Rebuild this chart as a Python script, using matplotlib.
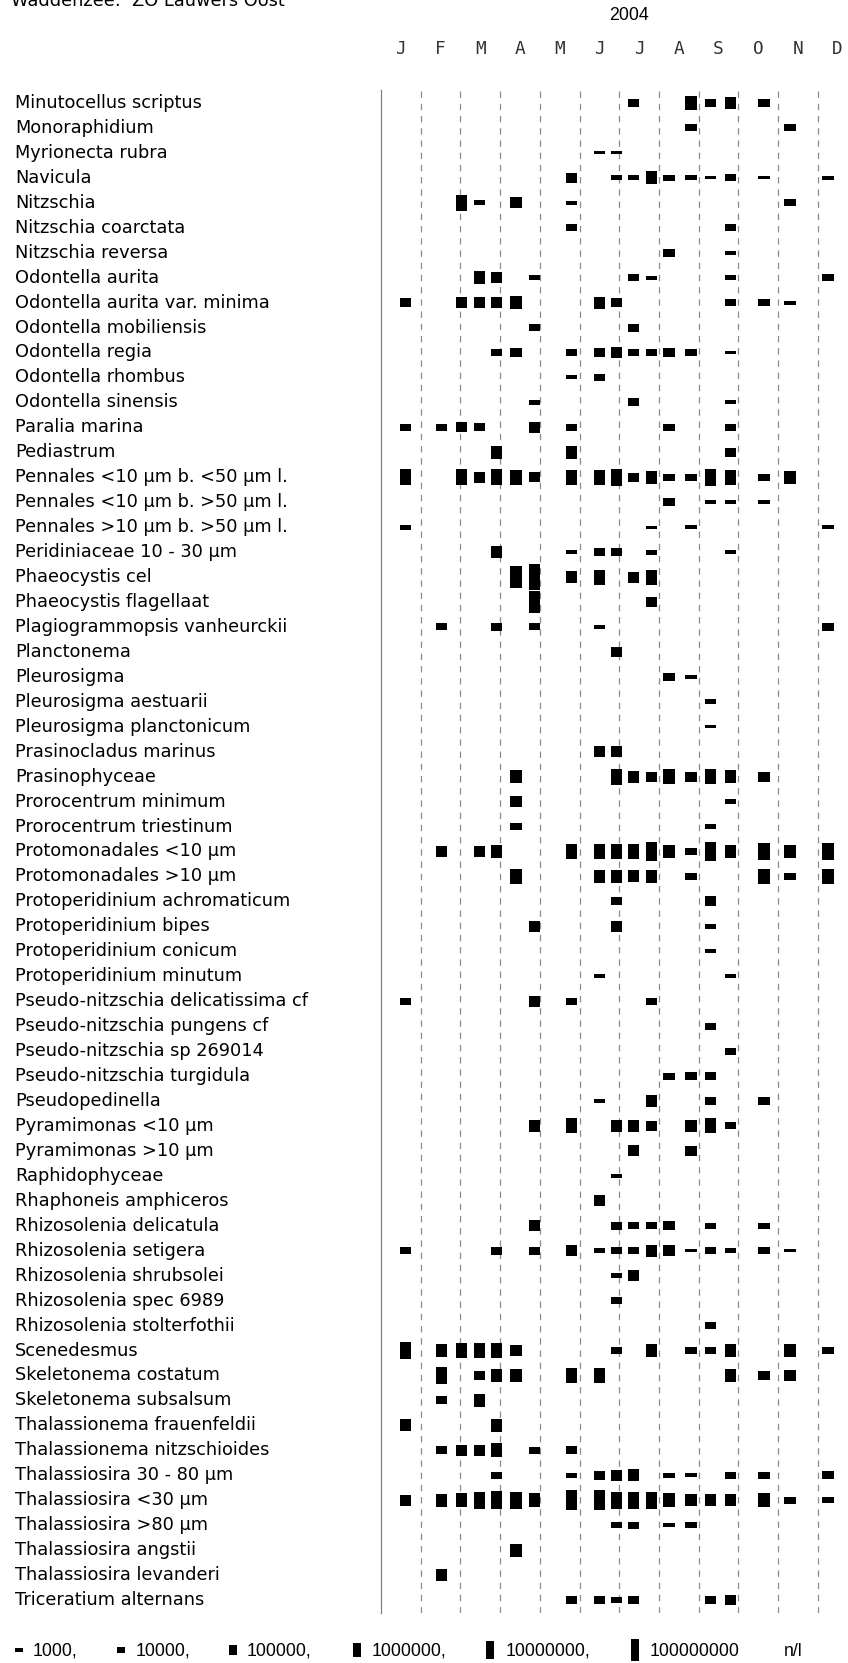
import calendar
import math
import matplotlib
matplotlib.use("Agg")
import matplotlib.pyplot as plt
from matplotlib import transforms
from matplotlib.patches import Rectangle

plt.rcParams['font.family'] = ['DejaVu Sans']
plt.rcParams['lines.scale_dashes'] = False

# ---------------- data ----------------
title = "Waddenzee:  ZO Lauwers Oost"
year = 2004
month_labels = ["J", "F", "M", "A", "M", "J", "J", "A", "S", "O", "N", "D"]

sample_dates = ["01-20", "02-16", "03-02", "03-16", "03-29", "04-13", "04-27",
                "05-26", "06-16", "06-29", "07-12", "07-26", "08-09", "08-26",
                "09-10", "09-25", "10-21", "11-10", "12-09"]

species = [
    "Minutocellus scriptus", "Monoraphidium", "Myrionecta rubra", "Navicula",
    "Nitzschia", "Nitzschia coarctata", "Nitzschia reversa", "Odontella aurita",
    "Odontella aurita var. minima", "Odontella mobiliensis", "Odontella regia",
    "Odontella rhombus", "Odontella sinensis", "Paralia marina", "Pediastrum",
    "Pennales <10 µm b. <50 µm l.", "Pennales <10 µm b. >50 µm l.",
    "Pennales >10 µm b. >50 µm l.", "Peridiniaceae 10 - 30 µm", "Phaeocystis cel",
    "Phaeocystis flagellaat", "Plagiogrammopsis vanheurckii", "Planctonema",
    "Pleurosigma", "Pleurosigma aestuarii", "Pleurosigma planctonicum",
    "Prasinocladus marinus", "Prasinophyceae", "Prorocentrum minimum",
    "Prorocentrum triestinum", "Protomonadales <10 µm", "Protomonadales >10 µm",
    "Protoperidinium achromaticum", "Protoperidinium bipes", "Protoperidinium conicum",
    "Protoperidinium minutum", "Pseudo-nitzschia delicatissima cf",
    "Pseudo-nitzschia pungens cf", "Pseudo-nitzschia sp 269014",
    "Pseudo-nitzschia turgidula", "Pseudopedinella", "Pyramimonas <10 µm",
    "Pyramimonas >10 µm", "Raphidophyceae", "Rhaphoneis amphiceros",
    "Rhizosolenia delicatula", "Rhizosolenia setigera", "Rhizosolenia shrubsolei",
    "Rhizosolenia spec 6989", "Rhizosolenia stolterfothii", "Scenedesmus",
    "Skeletonema costatum", "Skeletonema subsalsum", "Thalassionema frauenfeldii",
    "Thalassionema nitzschioides", "Thalassiosira 30 - 80 µm", "Thalassiosira <30 µm",
    "Thalassiosira >80 µm", "Thalassiosira angstii", "Thalassiosira levanderi",
    "Triceratium alternans",
]

# "sample_index:log10(cells per litre)" for each species (same order)
log_density = [
    "10:4.1 13:5.3 14:3.9 15:5.0 16:4.1",
    "13:3.7 17:3.7",
    "8:2.8 9:2.8",
    "7:4.4 9:3.2 10:3.2 11:5.0 12:3.5 13:3.2 14:2.8 15:3.7 16:2.8 18:3.0",
    "2:5.7 3:3.2 5:4.6 7:3.0 17:3.7",
    "7:3.7 15:3.7",
    "12:3.9 15:3.0",
    "3:5.0 4:4.6 6:3.2 10:3.7 11:3.0 15:3.2 18:3.7",
    "0:4.1 2:4.6 3:4.6 4:4.6 5:5.0 8:4.8 9:4.1 15:3.7 16:3.7 17:3.0",
    "6:3.7 10:3.9",
    "4:3.9 5:4.1 7:3.7 8:4.1 9:4.8 10:3.9 11:3.9 12:4.1 13:3.9 15:2.8",
    "7:3.0 8:3.7",
    "6:3.2 10:3.9 15:3.0",
    "0:3.7 1:3.7 2:4.4 3:3.9 6:4.6 7:3.7 12:3.7 15:3.7",
    "4:5.0 7:5.0 15:4.1",
    "0:5.7 2:5.7 3:4.6 4:5.7 5:5.5 6:4.4 7:5.5 8:5.5 9:6.0 10:4.1 11:5.0 12:3.7 13:3.7 14:6.0 15:5.5 16:3.7 17:5.0",
    "12:3.9 14:3.0 15:3.0 16:3.0",
    "0:3.2 11:2.8 13:3.0 18:3.0",
    "4:5.0 7:3.0 8:3.9 9:3.9 11:3.2 15:3.0",
    "5:7.1 6:8.0 7:5.0 8:5.5 10:4.6 11:5.5",
    "6:6.9 11:4.4",
    "1:3.7 4:3.9 6:3.7 8:3.2 18:4.1",
    "9:4.4",
    "12:3.9 13:3.0",
    "14:3.2",
    "14:2.8",
    "8:4.6 9:4.6",
    "5:5.0 9:5.7 10:4.8 11:4.4 12:5.5 13:4.4 14:5.5 15:5.0 16:4.4",
    "5:4.6 15:3.2",
    "5:3.7 14:3.2",
    "1:4.8 3:4.8 4:5.0 7:5.7 8:5.5 9:5.5 10:5.5 11:6.2 12:5.0 13:3.7 14:6.2 15:5.0 16:6.0 17:5.0 18:6.0",
    "5:5.5 8:5.0 9:5.0 10:4.8 11:5.0 13:3.7 16:5.5 17:3.7 18:5.7",
    "9:3.9 14:4.4",
    "6:4.6 9:4.6 14:3.2",
    "14:3.0",
    "8:3.0 15:3.0",
    "0:3.7 6:4.6 7:3.7 11:3.7",
    "14:3.7",
    "15:3.7",
    "12:3.7 13:3.9 14:3.9",
    "8:3.0 11:4.8 14:3.7 16:3.7",
    "6:4.8 7:5.5 9:5.0 10:5.0 11:4.4 13:5.0 14:5.5 15:3.7",
    "10:4.6 13:4.4",
    "9:3.0",
    "8:4.6",
    "6:4.6 9:3.9 10:3.7 11:3.7 12:4.1 14:3.5 16:3.5",
    "0:3.7 4:3.9 6:3.9 7:4.6 8:3.2 9:3.7 10:3.7 11:4.8 12:4.6 13:2.8 14:3.7 15:3.2 16:3.7 17:2.8",
    "9:3.2 10:4.6",
    "9:3.7",
    "14:3.7",
    "0:6.0 1:5.0 2:5.5 3:5.5 4:5.5 5:4.8 9:3.5 11:5.0 13:3.7 14:3.5 15:5.0 17:5.0 18:3.5",
    "1:6.0 3:4.1 4:5.0 5:5.0 7:5.5 8:5.5 15:5.0 16:4.1 17:4.8",
    "1:3.9 3:5.0",
    "0:4.8 4:5.0",
    "1:3.9 2:4.6 3:4.6 4:5.3 6:3.7 7:3.9",
    "4:3.7 7:3.2 8:4.1 9:4.6 10:4.8 12:3.2 13:3.0 15:3.7 16:3.7 18:3.9",
    "0:4.6 1:5.0 2:5.3 3:6.0 4:6.2 5:6.0 6:5.3 7:6.6 8:6.6 9:6.0 10:6.0 11:6.0 12:5.3 13:4.8 14:4.8 15:4.8 16:5.3 17:3.7 18:3.5",
    "9:3.5 10:3.7 12:3.0 13:3.5",
    "5:5.0",
    "1:5.0",
    "7:3.7 8:3.7 9:3.5 10:3.9 14:3.9 15:4.4",
]

legend_values = [1000, 10000, 100000, 1000000, 10000000, 100000000]
legend_labels = ["1000,", "10000,", "100000,", "1000000,", "10000000,", "100000000"]
legend_unit = "n/l"

# ---------------- layout / style ----------------
W, H = 848, 1663
AX_L, AX_R, AX_T, AX_B = 381.0, 857.4, 90.0, 1613.0
FS = 12.8
BAR_W = 0.285          # in months
GRID_C = '#8c8c8c'
NARROW = ['Liberation Sans', 'DejaVu Sans']


def bar_px(logv):
    return 4.0 + 4.4 * (logv - 3.0)


def month_pos(mmdd):
    m, d = (int(t) for t in mmdd.split('-'))
    nd = calendar.monthrange(year, m)[1]
    return (m - 1) + (d - 1) / nd


fig = plt.figure(figsize=(W / 100, H / 100), dpi=100)
ax = fig.add_axes([AX_L / W, 1 - AX_B / H, (AX_R - AX_L) / W, (AX_B - AX_T) / H])
n = len(species)
pad = 0.52
ax.set_xlim(0, 12)
ax.set_ylim(n - 1 + pad, -pad)
px_per_row = (AX_B - AX_T) / (n - 1 + 2 * pad)
for s in ax.spines.values():
    s.set_visible(False)
ax.set_xticks([])
ax.set_yticks([])

# month separators
ax.axvline(0, color='#808080', lw=0.9, clip_on=False)
for m in range(1, 12):
    ax.axvline(m, color=GRID_C, lw=0.9, linestyle=(0, (4.6, 4.2)))

# marks
xpos = [month_pos(d) for d in sample_dates]
for i, row in enumerate(log_density):
    xs, hs, bs = [], [], []
    for tok in row.split():
        k, v = tok.split(':')
        h = bar_px(float(v)) / px_per_row
        xs.append(xpos[int(k)])
        hs.append(h)
        bs.append(i - h / 2)
    ax.bar(xs, hs, width=BAR_W, bottom=bs, color='black', linewidth=0, zorder=3)

# species labels
lab_tr = transforms.blended_transform_factory(fig.transFigure, ax.transData)
for i, name in enumerate(species):
    ax.text(15 / W, i, name, transform=lab_tr, ha='left', va='center',
            fontsize=FS, color='black')

# month labels
mon_tr = transforms.blended_transform_factory(ax.transData, fig.transFigure)
for m, lab in enumerate(month_labels):
    ax.text(m + 0.5, 1 - 49 / H, lab, transform=mon_tr, ha='center', va='center',
            fontsize=FS, family='DejaVu Sans Mono', color='#333333', clip_on=False)

# year and title
fig.text(629 / W, 1 - 16 / H, str(year), ha='center', va='center', fontsize=FS,
         family=NARROW)
fig.text(11 / W, 1 - 6 / H, title, ha='left', va='baseline', fontsize=FS)

# legend
leg_y = 1650.0
mark_cx = [19, 121, 233, 357, 490, 635]
text_x = [33, 136, 247, 372, 506, 650]
for v, lab, cx, tx in zip(legend_values, legend_labels, mark_cx, text_x):
    h = 0.82 * bar_px(math.log10(v))
    w = 7.5
    fig.patches.append(Rectangle(((cx - w / 2) / W, 1 - (leg_y + h / 2) / H),
                                 w / W, h / H, transform=fig.transFigure,
                                 facecolor='black', edgecolor='none'))
    fig.text(tx / W, 1 - 1651 / H, lab, ha='left', va='center', fontsize=FS,
             family=NARROW)
fig.text(784 / W, 1 - 1651 / H, legend_unit, ha='left', va='center', fontsize=FS,
         family=NARROW)

fig.savefig('out.png', dpi=100)
